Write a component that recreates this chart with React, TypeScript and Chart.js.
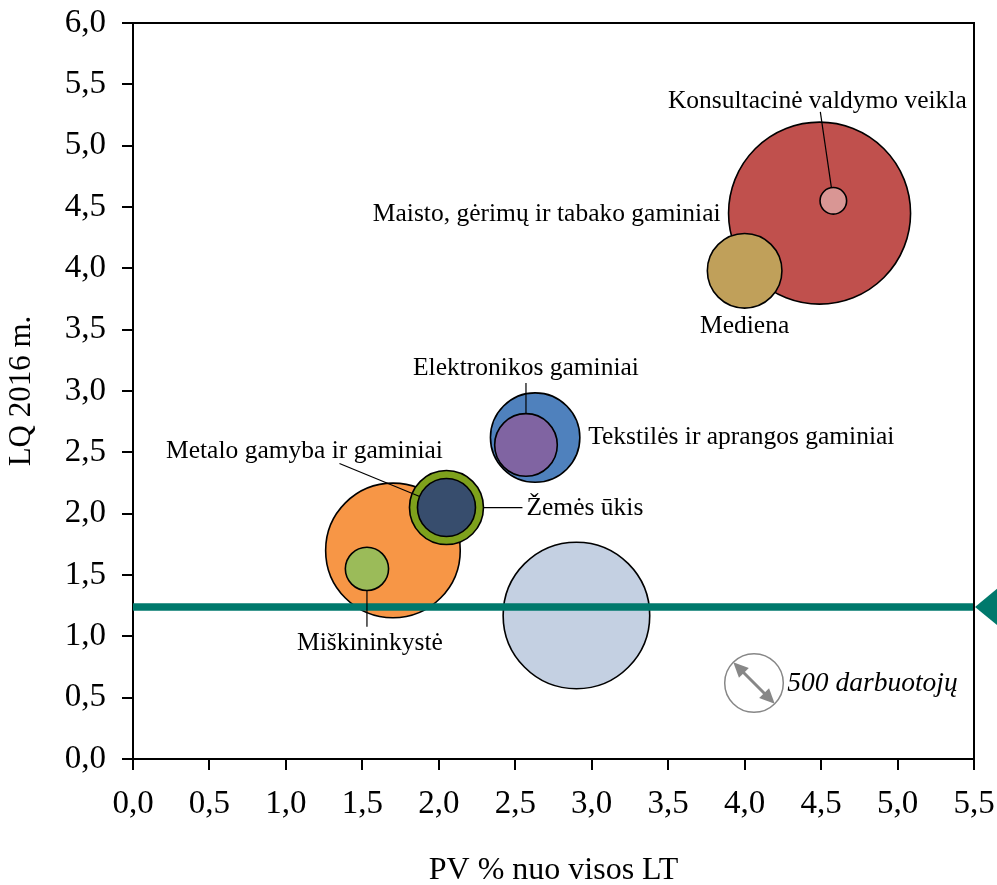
import React, { useEffect, useRef } from 'react';
import Chart from 'chart.js/auto';

// ---- Data ----
const sectorLabels = [
  '',
  '',
  'Miškininkystė',
  'Žemės ūkis',
  'Metalo gamyba ir gaminiai',
  'Tekstilės ir aprangos gaminiai',
  'Elektronikos gaminiai',
  'Maisto, gėrimų ir tabako gaminiai',
  'Mediena',
  'Konsultacinė valdymo veikla',
];
const pvShare = [2.9, 1.7, 1.53, 2.05, 2.05, 2.63, 2.57, 4.49, 4.0, 4.58];
const lqValues = [1.17, 1.7, 1.55, 2.05, 2.05, 2.62, 2.56, 4.45, 3.98, 4.55];
const employees = [3129, 2638, 272, 797, 490, 1164, 571, 4823, 810, 103];
const fillColors = [
  '#C4D0E2', '#F79646', '#9BBB59', '#7EA11C', '#374D6D',
  '#4F81BD', '#8064A2', '#C0504D', '#C0A05A', '#D99694',
];
const xTickValues = [0, 0.5, 1, 1.5, 2, 2.5, 3, 3.5, 4, 4.5, 5, 5.5];
const yTickValues = [0, 0.5, 1, 1.5, 2, 2.5, 3, 3.5, 4, 4.5, 5, 5.5, 6];
const LT_LEVEL = 1.24;
const LEGEND_EMPLOYEES = 500;
const LEGEND_TEXT = '500 darbuotojų';
const X_TITLE = 'PV % nuo visos LT';
const Y_TITLE = 'LQ 2016 m.';

// ---- Styles ----
const FONT_FAMILY = '"Liberation Serif", "Times New Roman", serif';
const LEGEND_R = 29.3;
const TEAL = '#00796C';
const radiusFor = (n: number) => LEGEND_R * Math.sqrt(n / LEGEND_EMPLOYEES);
const fmt = (v: number) => v.toFixed(1).replace('.', ',');

// label layout (pixel offsets from bubble centre), keyed by index
type LabelStyle = { dx: number; dy: number; align: CanvasTextAlign; leader?: [number, number] };
const labelLayout: Record<number, LabelStyle> = {
  9: { dx: -16, dy: -100, align: 'center', leader: [-13, -89] },
  7: { dx: -99, dy: 1, align: 'right' },
  8: { dx: 0, dy: 56, align: 'center' },
  6: { dx: 0, dy: -77, align: 'center', leader: [0, -62] },
  5: { dx: 53, dy: 0, align: 'left' },
  4: { dx: -142, dy: -56, align: 'center', leader: [-107, -44] },
  3: { dx: 80, dy: 1, align: 'left', leader: [76, 0] },
  2: { dx: 3, dy: 74, align: 'center', leader: [0, 58] },
};

const overlayPlugin = {
  id: 'overlay',
  afterDatasetsDraw(chart: any) {
    const { ctx, chartArea, scales } = chart;
    const xs = scales.x;
    const ys = scales.y;
    ctx.save();
    // labels + leaders
    ctx.font = `25.5px ${FONT_FAMILY}`;
    ctx.fillStyle = '#000';
    ctx.textBaseline = 'middle';
    sectorLabels.forEach((txt, i) => {
      const lay = labelLayout[i];
      if (!txt || !lay) return;
      const cx = xs.getPixelForValue(pvShare[i]);
      const cy = ys.getPixelForValue(lqValues[i]);
      if (lay.leader) {
        const [lx, ly] = lay.leader;
        const len = Math.hypot(lx, ly);
        const r = radiusFor(employees[i]);
        ctx.beginPath();
        ctx.strokeStyle = '#000';
        ctx.lineWidth = 1.2;
        ctx.moveTo(cx + (lx / len) * r, cy + (ly / len) * r);
        ctx.lineTo(cx + lx, cy + ly);
        ctx.stroke();
      }
      ctx.textAlign = lay.align;
      ctx.fillText(txt, cx + lay.dx, cy + lay.dy);
    });

    // size legend
    const lcx = chartArea.right - 220;
    const lcy = chartArea.bottom - 76;
    const gray = '#878787';
    ctx.beginPath();
    ctx.strokeStyle = gray;
    ctx.lineWidth = 1.5;
    ctx.arc(lcx, lcy, LEGEND_R, 0, Math.PI * 2);
    ctx.stroke();
    const d = LEGEND_R * Math.SQRT1_2;
    const ax = lcx - d, ay = lcy - d, bx = lcx + d, by = lcy + d;
    const head = 15;
    const ux = Math.SQRT1_2, uy = Math.SQRT1_2;
    ctx.beginPath();
    ctx.strokeStyle = gray;
    ctx.lineWidth = 3;
    ctx.moveTo(ax + ux * head * 0.8, ay + uy * head * 0.8);
    ctx.lineTo(bx - ux * head * 0.8, by - uy * head * 0.8);
    ctx.stroke();
    ctx.fillStyle = gray;
    const drawHead = (tx: number, ty: number, dirx: number, diry: number) => {
      const px = -diry, py = dirx;
      ctx.beginPath();
      ctx.moveTo(tx, ty);
      ctx.lineTo(tx - dirx * head + px * 7, ty - diry * head + py * 7);
      ctx.lineTo(tx - dirx * head - px * 7, ty - diry * head - py * 7);
      ctx.closePath();
      ctx.fill();
    };
    drawHead(ax, ay, -ux, -uy);
    drawHead(bx, by, ux, uy);
    ctx.fillStyle = '#000';
    ctx.font = `italic 27.5px ${FONT_FAMILY}`;
    ctx.textAlign = 'left';
    ctx.textBaseline = 'middle';
    ctx.fillText(LEGEND_TEXT, lcx + LEGEND_R + 4, lcy + 1);
    ctx.restore();
  },
  afterDraw(chart: any) {
    const { ctx, chartArea, scales } = chart;
    ctx.save();
    ctx.strokeStyle = '#000';
    ctx.lineWidth = 2;
    ctx.beginPath();
    ctx.moveTo(chartArea.left, chartArea.top);
    ctx.lineTo(chartArea.right, chartArea.top);
    ctx.lineTo(chartArea.right, chartArea.bottom);
    ctx.stroke();
    // LT arrow marker
    const y = scales.y.getPixelForValue(LT_LEVEL);
    ctx.fillStyle = TEAL;
    ctx.beginPath();
    ctx.moveTo(chartArea.right + 1, y);
    ctx.lineTo(chartArea.right + 30, y - 24);
    ctx.lineTo(chartArea.right + 30, y + 24);
    ctx.closePath();
    ctx.fill();
    ctx.restore();
  },
};

export default function App() {
  const ref = useRef<HTMLCanvasElement | null>(null);
  useEffect(() => {
    if (!ref.current) return;
    const tickFont = { family: FONT_FAMILY, size: 33 };
    const chart = new Chart(ref.current, {
      data: {
        datasets: [
          {
            type: 'line',
            data: [
              { x: 0, y: LT_LEVEL },
              { x: 5.5, y: LT_LEVEL },
            ],
            borderColor: TEAL,
            borderWidth: 7.5,
            pointRadius: 0,
            order: 0,
          } as any,
          {
            type: 'bubble',
            data: pvShare.map((x, i) => ({ x, y: lqValues[i], r: radiusFor(employees[i]) })),
            backgroundColor: fillColors,
            borderColor: '#000',
            borderWidth: 1.6,
            hoverRadius: 0,
            order: 1,
          } as any,
        ],
      },
      options: {
        responsive: false,
        animation: false,
        devicePixelRatio: 1,
        events: [],
        layout: { autoPadding: false, padding: { top: 23, right: 23, left: 0, bottom: 0 } },
        plugins: { legend: { display: false }, tooltip: { enabled: false } },
        scales: {
          x: {
            type: 'linear',
            min: 0,
            max: 5.5,
            afterBuildTicks: (s: any) => {
              s.ticks = xTickValues.map((v) => ({ value: v }));
            },
            afterFit: (s: any) => {
              s.height = 126;
              s.paddingLeft = 0;
              s.paddingRight = 0;
            },
            ticks: {
              callback: (v: any) => fmt(Number(v)),
              font: tickFont,
              color: '#000',
              padding: 15,
              maxRotation: 0,
              autoSkip: false,
            },
            grid: { drawOnChartArea: false, drawTicks: true, tickLength: 11, color: '#000', lineWidth: 2 },
            border: { display: true, color: '#000', width: 2 },
            title: {
              display: true,
              text: X_TITLE,
              color: '#000',
              font: { family: FONT_FAMILY, size: 32, lineHeight: 0.9 },
              padding: 0,
            },
          },
          y: {
            type: 'linear',
            min: 0,
            max: 6,
            afterBuildTicks: (s: any) => {
              s.ticks = yTickValues.map((v) => ({ value: v }));
            },
            afterFit: (s: any) => {
              s.width = 133;
              s.paddingTop = 0;
              s.paddingBottom = 0;
            },
            ticks: {
              callback: (v: any) => fmt(Number(v)),
              font: tickFont,
              color: '#000',
              padding: 16,
              autoSkip: false,
            },
            grid: { drawOnChartArea: false, drawTicks: true, tickLength: 11, color: '#000', lineWidth: 2 },
            border: { display: true, color: '#000', width: 2 },
            title: {
              display: true,
              text: Y_TITLE,
              color: '#000',
              font: { family: FONT_FAMILY, size: 31, lineHeight: 1.39 },
              padding: 0,
            },
          },
        },
      } as any,
      plugins: [overlayPlugin],
    });
    return () => chart.destroy();
  }, []);
  return (
    <div style={{ position: 'fixed', left: 0, top: 0, width: 997, height: 885, background: '#fff' }}>
      <canvas ref={ref} width={997} height={885} style={{ display: 'block' }} />
    </div>
  );
}
